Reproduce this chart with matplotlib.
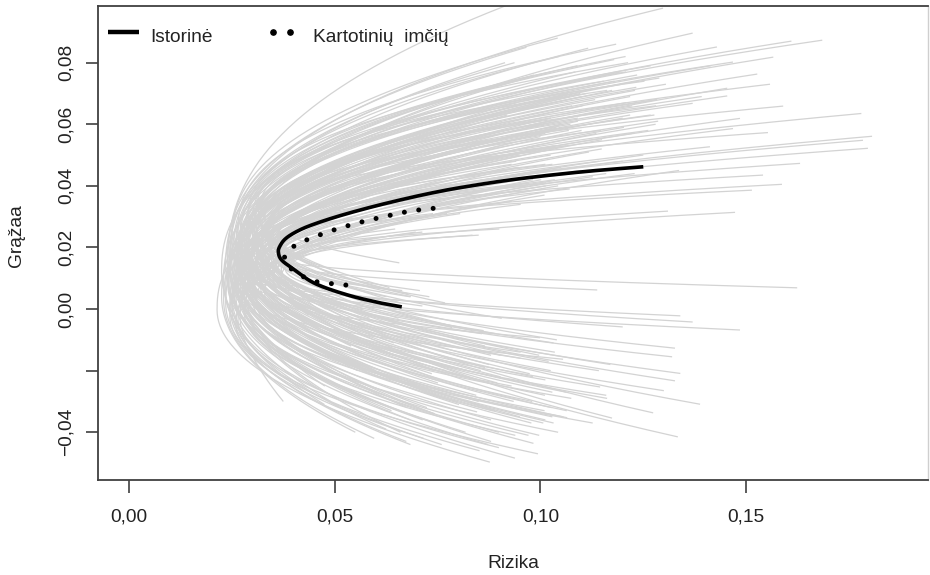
import numpy as np
import matplotlib
matplotlib.use("Agg")
import matplotlib.pyplot as plt

plt.rcParams["font.family"] = ["Liberation Sans", "DejaVu Sans"]

# Historical efficient frontier (risk, return)
hist_risk = [0.0663, 0.0614, 0.0533, 0.0452, 0.0403, 0.0371, 0.0363, 0.0367, 0.0380,
             0.0405, 0.0440, 0.0500, 0.0574, 0.0655, 0.0736, 0.0817, 0.0942, 0.1104, 0.1250]
hist_ret = [0.0007, 0.0019, 0.0045, 0.0083, 0.0127, 0.0159, 0.0185, 0.0205, 0.0228,
            0.0250, 0.0271, 0.0298, 0.0326, 0.0353, 0.0377, 0.0397, 0.0422, 0.0446, 0.0462]

# Average resampled frontier
resamp_risk = [0.0527, 0.0455, 0.0421, 0.0391, 0.0378, 0.0382, 0.0408, 0.0474,
               0.0543, 0.0613, 0.0684, 0.0754]
resamp_ret = [0.0078, 0.0089, 0.0107, 0.0134, 0.0156, 0.0178, 0.0210, 0.0246,
              0.0275, 0.0298, 0.0318, 0.0329]

# Individual resampled frontiers: minimum-variance point, upper end, lower end
vertex_risk = [0.0240, 0.0245, 0.0260, 0.0225, 0.0270, 0.0280, 0.0290, 0.0255, 0.0300, 0.0265,
               0.0310, 0.0240, 0.0270, 0.0285, 0.0320, 0.0300, 0.0260, 0.0275, 0.0330, 0.0290,
               0.0300, 0.0310, 0.0280, 0.0330, 0.0340, 0.0330, 0.0345, 0.0355, 0.0350, 0.0360,
               0.0370, 0.0300, 0.0320, 0.0290, 0.0310, 0.0300, 0.0285, 0.0250, 0.0214, 0.0270,
               0.0260, 0.0280, 0.0280, 0.0300, 0.0270, 0.0320, 0.0290, 0.0265, 0.0310, 0.0275,
               0.0260, 0.0285, 0.0300, 0.0250, 0.0270, 0.0245, 0.0335, 0.0310, 0.0290, 0.0325,
               0.0300, 0.0280, 0.0315, 0.0330, 0.0340, 0.0295, 0.0275, 0.0265, 0.0255, 0.0245,
               0.0230, 0.0235, 0.0240, 0.0235, 0.0255, 0.0270, 0.0285, 0.0300, 0.0315, 0.0325,
               0.0350, 0.0360, 0.0365, 0.0370, 0.0350, 0.0330, 0.0310, 0.0290, 0.0270, 0.0260,
               0.0245, 0.0280, 0.0305, 0.0320, 0.0295, 0.0280, 0.0265, 0.0255, 0.0315, 0.0335,
               0.0300, 0.0275, 0.0245, 0.0335, 0.0370, 0.0380, 0.0390, 0.0375, 0.0285, 0.0300,
               0.0270, 0.0290, 0.0260, 0.0310, 0.0325, 0.0280, 0.0265, 0.0250, 0.0245, 0.0260,
               0.0280, 0.0305, 0.0330, 0.0340, 0.0355, 0.0345, 0.0335, 0.0320, 0.0300, 0.0280,
               0.0265, 0.0250, 0.0235, 0.0225, 0.0230, 0.0240, 0.0250, 0.0265, 0.0290, 0.0310,
               0.0295, 0.0285, 0.0270, 0.0305, 0.0320, 0.0295, 0.0275, 0.0255, 0.0245, 0.0260,
               0.0365, 0.0380, 0.0355, 0.0340, 0.0335]
vertex_ret = [0.014, 0.016, 0.010, 0.012, 0.018, 0.020, 0.022, 0.015, 0.024, 0.014,
              0.026, 0.008, 0.016, 0.019, 0.028, 0.020, 0.010, 0.012, 0.030, 0.014,
              0.016, 0.018, 0.015, 0.020, 0.022, 0.019, 0.021, 0.014, 0.012, 0.0165,
              0.015, 0.010, 0.012, 0.008, 0.011, 0.006, 0.004, 0.002, -0.0003, 0.006,
              0.004, 0.010, 0.012, 0.016, 0.009, 0.020, 0.018, 0.014, 0.022, 0.017,
              0.019, 0.021, 0.025, 0.016, 0.022, 0.018, 0.024, 0.013, 0.010, 0.015,
              0.008, 0.005, 0.011, 0.017, 0.020, 0.015, 0.011, 0.007, 0.004, 0.001,
              0.003, 0.006, 0.010, 0.014, 0.020, 0.024, 0.027, 0.029, 0.031, 0.027,
              0.025, 0.022, 0.019, 0.013, 0.009, 0.005, 0.002, 0.000, -0.003, -0.005,
              -0.002, 0.003, 0.006, 0.009, 0.013, 0.016, 0.019, 0.011, 0.019, 0.023,
              0.021, 0.008, 0.012, 0.016, 0.010, 0.016, 0.014, 0.018, 0.014, 0.018,
              0.013, 0.020, 0.015, 0.016, 0.021, 0.009, 0.005, 0.008, 0.015, 0.021,
              0.024, 0.027, 0.029, 0.026, 0.021, 0.017, 0.012, 0.007, 0.003, -0.001,
              -0.004, 0.000, 0.002, 0.004, 0.009, 0.017, 0.022, 0.026, 0.030, 0.032,
              0.012, 0.017, 0.020, 0.023, 0.018, 0.007, 0.003, 0.006, 0.009, 0.012,
              0.017, 0.013, 0.020, 0.010, 0.014]
upper_risk = [0.0955, 0.1298, 0.1370, 0.1116, 0.1429, 0.1610, 0.1685, 0.1566, 0.1468, 0.1527,
              0.1558, 0.1454, 0.1454, 0.1370, 0.1590, 0.1780, 0.1485, 0.1468, 0.1553, 0.1806,
              0.1784, 0.1796, 0.1412, 0.1631, 0.1541, 0.1587, 0.1514, 0.1310, 0.1473, 0.0900,
              0.0850, 0.1100, 0.1200, 0.1250, 0.1050, 0.0950, 0.1150, 0.1000, 0.1050, 0.1100,
              0.1000, 0.1200, 0.1012, 0.1034, 0.1039, 0.1073, 0.1077, 0.1101, 0.1233, 0.1194,
              0.1027, 0.1235, 0.1080, 0.0985, 0.1090, 0.0937, 0.1091, 0.1063, 0.0949, 0.1025,
              0.1032, 0.1033, 0.0945, 0.0930, 0.0941, 0.1069, 0.1044, 0.1025, 0.0932, 0.0929,
              0.0919, 0.1054, 0.1067, 0.0914, 0.1045, 0.1207, 0.1208, 0.1154, 0.1162, 0.1025,
              0.1037, 0.1029, 0.0971, 0.0760, 0.0805, 0.0930, 0.1010, 0.1043, 0.1002, 0.1337,
              0.0948, 0.1127, 0.1229, 0.1160, 0.1218, 0.1230, 0.1414, 0.1174, 0.1392, 0.1277,
              0.1305, 0.1280, 0.1097, 0.1142, 0.0697, 0.0647, 0.0835, 0.0773, 0.1223, 0.1284,
              0.1218, 0.1133, 0.1197, 0.1286, 0.1268, 0.1203, 0.1136, 0.1102, 0.1085, 0.1179,
              0.1268, 0.1289, 0.1281, 0.1147, 0.1012, 0.1032, 0.1035, 0.1012, 0.1013, 0.1014,
              0.0982, 0.0987, 0.1002, 0.0942, 0.0966, 0.0966, 0.1042, 0.1184, 0.1213, 0.1253,
              0.1222, 0.1208, 0.1180, 0.1281, 0.1262, 0.1149, 0.1118, 0.1091, 0.1072, 0.1112,
              0.0739, 0.0713, 0.0970, 0.0952, 0.1071]
upper_ret = [0.1005, 0.0977, 0.0896, 0.0847, 0.0851, 0.0870, 0.0873, 0.0818, 0.0802, 0.0763,
             0.0730, 0.0717, 0.0692, 0.0668, 0.0659, 0.0635, 0.0619, 0.0586, 0.0573, 0.0561,
             0.0548, 0.0522, 0.0527, 0.0473, 0.0435, 0.0405, 0.0386, 0.0318, 0.0314, 0.0260,
             0.0240, 0.0450, 0.0480, 0.0500, 0.0460, 0.0420, 0.0550, 0.0520, 0.0600, 0.0580,
             0.0560, 0.0620, 0.0570, 0.0580, 0.0590, 0.0600, 0.0660, 0.0690, 0.0720, 0.0770,
             0.0770, 0.0760, 0.0700, 0.0760, 0.0790, 0.0800, 0.0620, 0.0530, 0.0500, 0.0500,
             0.0530, 0.0520, 0.0460, 0.0470, 0.0480, 0.0580, 0.0610, 0.0620, 0.0540, 0.0560,
             0.0630, 0.0690, 0.0700, 0.0800, 0.0820, 0.0820, 0.0770, 0.0740, 0.0710, 0.0620,
             0.0530, 0.0470, 0.0410, 0.0310, 0.0310, 0.0350, 0.0370, 0.0400, 0.0420, 0.0450,
             0.0460, 0.0430, 0.0440, 0.0440, 0.0630, 0.0710, 0.0790, 0.0710, 0.0690, 0.0630,
             0.0730, 0.0600, 0.0700, 0.0480, 0.0250, 0.0260, 0.0240, 0.0310, 0.0660, 0.0680,
             0.0690, 0.0680, 0.0730, 0.0610, 0.0630, 0.0590, 0.0570, 0.0660, 0.0770, 0.0810,
             0.0790, 0.0750, 0.0660, 0.0580, 0.0470, 0.0450, 0.0420, 0.0390, 0.0400, 0.0410,
             0.0420, 0.0520, 0.0600, 0.0670, 0.0750, 0.0850, 0.0880, 0.0860, 0.0800, 0.0740,
             0.0570, 0.0670, 0.0740, 0.0680, 0.0580, 0.0520, 0.0510, 0.0610, 0.0690, 0.0700,
             0.0310, 0.0250, 0.0400, 0.0340, 0.0390]
lower_risk = [0.0375, 0.0476, 0.0660, 0.0490, 0.0600, 0.0540, 0.0490, 0.0950, 0.0480, 0.0850,
              0.0460, 0.0983, 0.0770, 0.0650, 0.0510, 0.0570, 0.1065, 0.1145, 0.0657, 0.0730,
              0.1340, 0.1327, 0.1300, 0.1388, 0.1274, 0.1334, 0.1174, 0.1327, 0.1320, 0.1624,
              0.1138, 0.1340, 0.1370, 0.1485, 0.1200, 0.0999, 0.1055, 0.0938, 0.0877, 0.0846,
              0.0739, 0.0980, 0.0844, 0.0823, 0.0880, 0.0880, 0.0817, 0.0802, 0.0875, 0.0890,
              0.0766, 0.0895, 0.0903, 0.0742, 0.0758, 0.0676, 0.0785, 0.1063, 0.1064, 0.1025,
              0.1032, 0.0997, 0.1162, 0.1170, 0.1040, 0.1029, 0.0978, 0.0880, 0.0873, 0.0684,
              0.0596, 0.0625, 0.0638, 0.0461, 0.0556, 0.0578, 0.0585, 0.0534, 0.0500, 0.0660,
              0.0678, 0.0685, 0.0626, 0.0862, 0.0952, 0.0930, 0.1010, 0.1043, 0.0899, 0.0994,
              0.0716, 0.1127, 0.1075, 0.1012, 0.1027, 0.0751, 0.0736, 0.0743, 0.0974, 0.0835,
              0.0865, 0.1007, 0.0622, 0.1035, 0.0858, 0.0647, 0.0664, 0.0707, 0.0935, 0.0903,
              0.0884, 0.0855, 0.0797, 0.0982, 0.0997, 0.1012, 0.0899, 0.0714, 0.0601, 0.0596,
              0.0644, 0.0655, 0.0633, 0.0768, 0.0906, 0.1032, 0.1142, 0.1160, 0.1056, 0.0939,
              0.0852, 0.0760, 0.0674, 0.0550, 0.0475, 0.0419, 0.0390, 0.0437, 0.0442, 0.0456,
              0.1011, 0.0850, 0.0741, 0.0865, 0.1020, 0.1029, 0.0971, 0.0818, 0.0684, 0.0724,
              0.0683, 0.0713, 0.0730, 0.0952, 0.0891]
lower_ret = [-0.030, -0.025, -0.040, -0.030, -0.020, -0.012, -0.005, -0.035, 0.000, -0.030,
             0.008, -0.0436, -0.020, -0.010, 0.012, 0.000, -0.0353, -0.0253, 0.015, -0.010,
             -0.0209, -0.0233, -0.0265, -0.0309, -0.0337, -0.0415, -0.0354, -0.0127, -0.0155, 0.0069,
             0.0062, -0.0022, -0.0042, -0.0068, -0.0058, -0.0093, -0.0163, -0.0484, -0.0497, -0.0334,
             -0.0367, -0.0300, -0.028, -0.020, -0.036, -0.015, -0.022, -0.031, -0.018, -0.033,
             -0.029, -0.024, -0.015, -0.034, -0.023, -0.032, -0.006, -0.027, -0.033, -0.020,
             -0.037, -0.041, -0.029, -0.018, -0.010, -0.027, -0.037, -0.043, -0.044, -0.044,
             -0.042, -0.039, -0.033, -0.026, -0.020, -0.011, -0.003, 0.004, 0.011, 0.002,
             0.005, 0.004, 0.004, -0.007, -0.016, -0.025, -0.033, -0.040, -0.045, -0.047,
             -0.042, -0.037, -0.029, -0.023, -0.032, -0.024, -0.021, -0.034, -0.021, -0.007,
             -0.019, -0.037, -0.028, -0.014, -0.008, 0.006, 0.006, 0.006, -0.030, -0.022,
             -0.033, -0.020, -0.030, -0.022, -0.015, -0.036, -0.040, -0.036, -0.027, -0.017,
             -0.011, -0.003, 0.007, 0.002, -0.003, -0.011, -0.020, -0.028, -0.035, -0.041,
             -0.046, -0.044, -0.043, -0.040, -0.031, -0.019, -0.008, -0.002, 0.008, 0.014,
             -0.028, -0.023, -0.020, -0.012, -0.017, -0.035, -0.041, -0.040, -0.036, -0.032,
             0.004, 0.001, 0.004, -0.014, -0.008]

# Curvature of the upper and lower frontier branches
EXP_UPPER = 2.4
EXP_LOWER = 2.0


def frontier_path(vx, vy, ux, uy, lx, ly, n=80):
    """Curve through the lower end, the minimum-variance point and the upper end."""
    cu = (ux - vx) / (uy - vy) ** EXP_UPPER
    cl = (lx - vx) / (vy - ly) ** EXP_LOWER
    y_up = np.linspace(vy, uy, n)
    y_lo = np.linspace(ly, vy, n)
    x_up = vx + cu * (y_up - vy) ** EXP_UPPER
    x_lo = vx + cl * (vy - y_lo) ** EXP_LOWER
    return np.concatenate([x_lo, x_up[1:]]), np.concatenate([y_lo, y_up[1:]])


def smooth_through(xs, ys, per_seg=16):
    """Catmull-Rom curve passing through every given point."""
    p = np.column_stack([xs, ys]).astype(float)
    p = np.vstack([p[0], p, p[-1]])
    t = np.linspace(0, 1, per_seg, endpoint=False)[:, None]
    out = []
    for i in range(1, len(p) - 2):
        p0, p1, p2, p3 = p[i - 1], p[i], p[i + 1], p[i + 2]
        seg = 0.5 * ((2 * p1) + (-p0 + p2) * t + (2 * p0 - 5 * p1 + 4 * p2 - p3) * t ** 2
                     + (-p0 + 3 * p1 - 3 * p2 + p3) * t ** 3)
        out.append(seg)
    out.append(p[-2][None, :])
    out = np.vstack(out)
    return out[:, 0], out[:, 1]


fig = plt.figure(figsize=(9.3, 5.75), dpi=100)
ax = fig.add_axes([98 / 930, 95 / 575, 830 / 930, 474 / 575])

for i in range(len(vertex_risk)):
    xs, ys = frontier_path(vertex_risk[i], vertex_ret[i], upper_risk[i], upper_ret[i],
                           lower_risk[i], lower_ret[i])
    ax.plot(xs, ys, color="#d3d3d3", lw=0.9, solid_capstyle="butt", zorder=1)

hx, hy = smooth_through(hist_risk, hist_ret)
ax.plot(hx, hy, color="black", lw=2.6, solid_capstyle="butt",
        solid_joinstyle="round", zorder=3)
rx, ry = smooth_through(resamp_risk, resamp_ret)
ax.plot(rx, ry, color="black", lw=3.6,
        linestyle=(0, (0.001, 2.9)), dash_capstyle="round", zorder=4)

ax.set_xlim(-0.00754, 0.1942)
ax.set_ylim(-0.0555, 0.0984)

xticks = [0.00, 0.05, 0.10, 0.15]
xtick_labels = ["0,00", "0,05", "0,10", "0,15"]
yticks = [-0.04, -0.02, 0.00, 0.02, 0.04, 0.06, 0.08]
ytick_labels = ["\u22120,04", "", "0,00", "0,02", "0,04", "0,06", "0,08"]

ax.set_xticks(xticks)
ax.set_xticklabels(xtick_labels)
ax.set_yticks(yticks)
ax.set_yticklabels(ytick_labels, rotation=90, va="center")

axis_col = "#404040"
for side in ["left", "bottom", "top"]:
    ax.spines[side].set_color(axis_col)
    ax.spines[side].set_linewidth(1.3)
ax.spines["right"].set_color("#cfcfcf")
ax.spines["right"].set_linewidth(1.0)

ax.tick_params(axis="x", direction="out", length=9.5, width=1.2, color=axis_col,
               labelsize=13.8, labelcolor="#222222", pad=11)
ax.tick_params(axis="y", direction="out", length=9, width=1.2, color=axis_col,
               labelsize=13.8, labelcolor="#222222", pad=8)

ax.set_xlabel("Rizika", fontsize=13.8, color="#222222")
ax.set_ylabel("Grąžaa", fontsize=13.8, color="#222222")
ax.xaxis.set_label_coords(0.5, -0.158)
ax.yaxis.set_label_coords(-0.088, 0.515)

# Legend
ax.plot([0.012, 0.0494], [0.945, 0.945], transform=ax.transAxes, color="black",
        lw=3.2, solid_capstyle="butt", zorder=5)
ax.text(0.0627, 0.924, "Istorinė", transform=ax.transAxes, fontsize=13.8,
        color="#222222", va="baseline", ha="left")
ax.plot([0.2108, 0.2313], [0.945, 0.945], transform=ax.transAxes, color="black",
        marker="o", ms=3.8, linestyle="none", zorder=5)
ax.text(0.259, 0.924, "Kartotinių  imčių", transform=ax.transAxes, fontsize=13.8,
        color="#222222", va="baseline", ha="left")

fig.savefig("out.png", dpi=100)
